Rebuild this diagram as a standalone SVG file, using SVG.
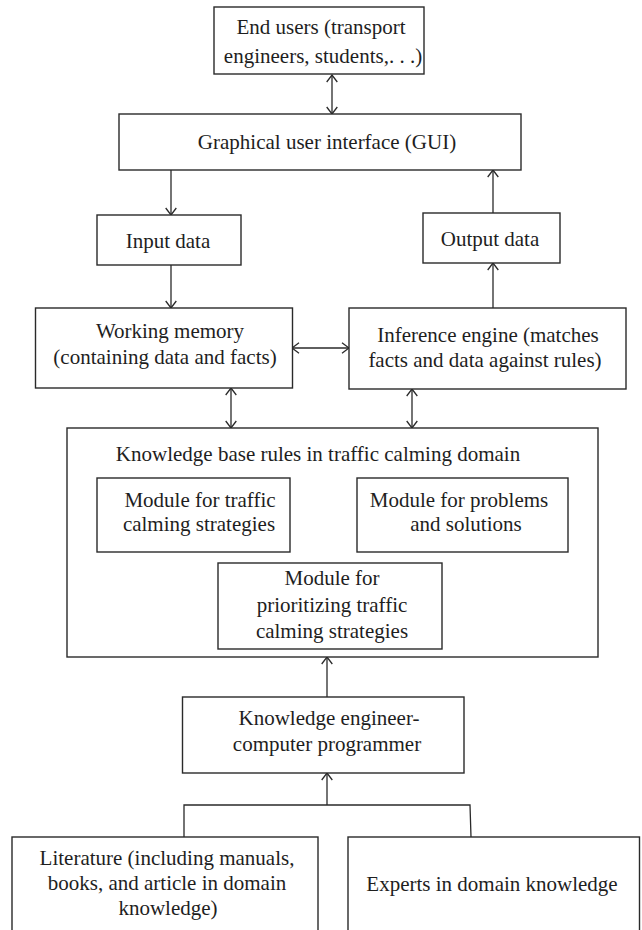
<svg xmlns="http://www.w3.org/2000/svg" width="642" height="930" viewBox="0 0 642 930">
<style>
.box{fill:#fff;stroke:#2a2a2a;stroke-width:1.4}
.t{font-family:"Liberation Serif","Times New Roman",serif;font-size:21px;fill:#1e1e1e;text-anchor:middle}
.c{fill:none;stroke:#2a2a2a;stroke-width:1.3}
</style>
<defs>
<marker id="ah" viewBox="0 0 9 12" refX="8" refY="6" markerWidth="9" markerHeight="12" markerUnits="userSpaceOnUse" orient="auto-start-reverse">
<path d="M1,0.7 L8,6 L1,11.3" fill="none" stroke="#2a2a2a" stroke-width="1.3"/>
</marker>
</defs>
<rect width="642" height="930" fill="#fff"/>
<g id="connectors">
<line class="c" x1="332" y1="75" x2="332" y2="114" marker-start="url(#ah)" marker-end="url(#ah)"/>
<line class="c" x1="171" y1="170" x2="171" y2="215" marker-end="url(#ah)"/>
<line class="c" x1="171" y1="265" x2="171" y2="308" marker-end="url(#ah)"/>
<line class="c" x1="493" y1="308" x2="493" y2="263" marker-end="url(#ah)"/>
<line class="c" x1="493" y1="213" x2="493" y2="170" marker-end="url(#ah)"/>
<line class="c" x1="292" y1="348" x2="349" y2="348" marker-start="url(#ah)" marker-end="url(#ah)"/>
<line class="c" x1="231" y1="388" x2="231" y2="428" marker-start="url(#ah)" marker-end="url(#ah)"/>
<line class="c" x1="412" y1="389" x2="412" y2="428" marker-start="url(#ah)" marker-end="url(#ah)"/>
<line class="c" x1="290" y1="516" x2="357" y2="516" marker-start="url(#ah)" marker-end="url(#ah)"/>
<line class="c" x1="327" y1="697" x2="327" y2="657" marker-end="url(#ah)"/>
<line class="c" x1="327" y1="805" x2="327" y2="773" marker-end="url(#ah)"/>
<polyline class="c" points="184,837 184,805 470,805 471,837"/>
</g>
<g id="end-users">
<rect class="box" x="214" y="7" width="210" height="67"/>
<text class="t" x="321" y="34">End users (transport</text>
<text class="t" x="323" y="63">engineers, students,. . .)</text>
</g>
<g id="gui">
<rect class="box" x="119" y="114" width="402" height="56"/>
<text class="t" x="327" y="149">Graphical user interface (GUI)</text>
</g>
<g id="input-data">
<rect class="box" x="97" y="215" width="144" height="50"/>
<text class="t" x="168" y="248">Input data</text>
</g>
<g id="output-data">
<rect class="box" x="423" y="213" width="137" height="50"/>
<text class="t" x="490" y="246">Output data</text>
</g>
<g id="working-memory">
<rect class="box" x="35.5" y="308" width="257" height="80"/>
<text class="t" x="170" y="338">Working memory</text>
<text class="t" x="165" y="364">(containing data and facts)</text>
</g>
<g id="inference-engine">
<rect class="box" x="349" y="308" width="277" height="81"/>
<text class="t" x="488" y="342">Inference engine (matches</text>
<text class="t" x="485" y="367">facts and data against rules)</text>
</g>
<g id="knowledge-base">
<rect class="box" x="67" y="428" width="531" height="229"/>
<text class="t" x="318" y="461">Knowledge base rules in traffic calming domain</text>
</g>
<g id="module-strategies">
<rect class="box" x="97" y="478" width="193" height="74"/>
<text class="t" x="200" y="507">Module for traffic</text>
<text class="t" x="199" y="531">calming strategies</text>
</g>
<g id="module-problems">
<rect class="box" x="357" y="478" width="211" height="74"/>
<text class="t" x="459" y="507">Module for problems</text>
<text class="t" x="466" y="531">and solutions</text>
</g>
<g id="module-prioritizing">
<rect class="box" x="218" y="563" width="224" height="86"/>
<text class="t" x="332" y="585">Module for</text>
<text class="t" x="332" y="612">prioritizing traffic</text>
<text class="t" x="332" y="638">calming strategies</text>
</g>
<g id="knowledge-engineer">
<rect class="box" x="182.5" y="697" width="281.5" height="76"/>
<text class="t" x="329" y="725">Knowledge engineer-</text>
<text class="t" x="327" y="751">computer programmer</text>
</g>
<g id="literature">
<rect class="box" x="12" y="837" width="306" height="100"/>
<text class="t" x="167" y="865">Literature (including manuals,</text>
<text class="t" x="167" y="890">books, and article in domain</text>
<text class="t" x="168" y="915">knowledge)</text>
</g>
<g id="experts">
<rect class="box" x="348" y="837" width="291.5" height="100"/>
<text class="t" x="492" y="891">Experts in domain knowledge</text>
</g>
</svg>
